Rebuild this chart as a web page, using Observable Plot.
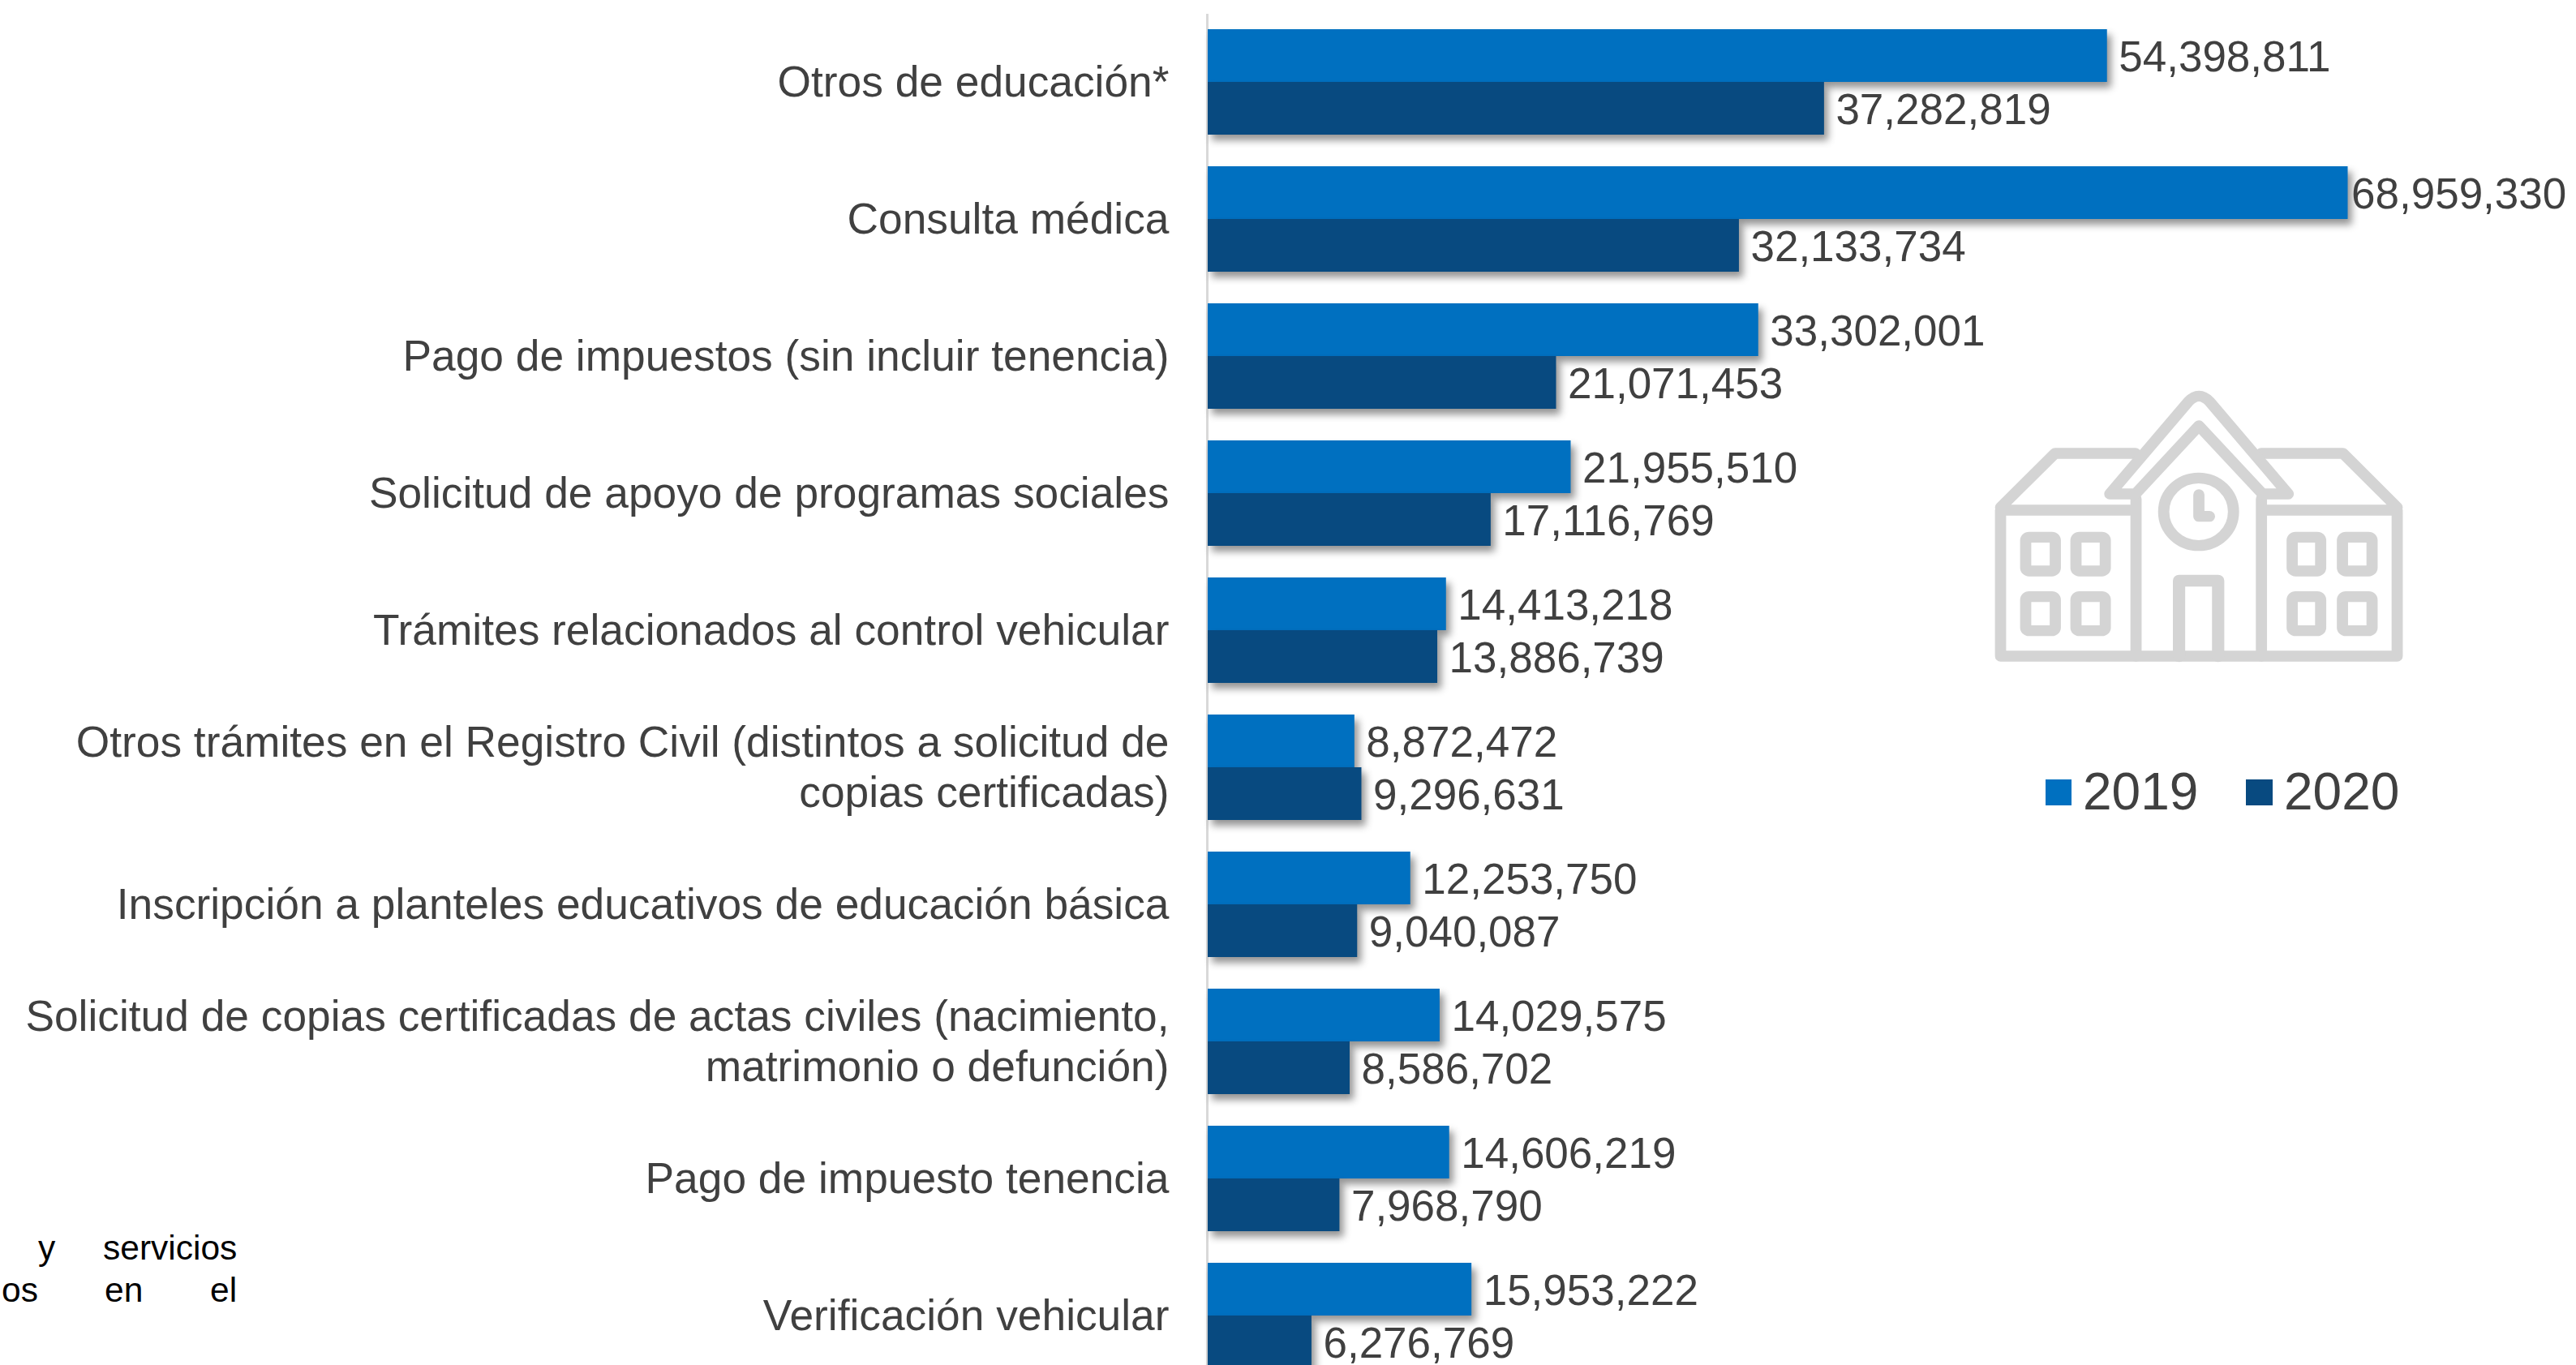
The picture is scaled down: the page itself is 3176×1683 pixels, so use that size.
<!DOCTYPE html>
<html lang="es">
<head>
<meta charset="utf-8">
<script src="https://cdn.jsdelivr.net/npm/d3@7"></script>
<script src="https://cdn.jsdelivr.net/npm/@observablehq/plot@0.6"></script>
<style>
html,body{margin:0;padding:0;background:#fff;overflow:hidden;}
#wrap{position:relative;width:3176px;height:1683px;overflow:hidden;font-family:"Liberation Sans",Arial,sans-serif;background:#fff;}
.abs{position:absolute;white-space:pre;line-height:1;}
.leg{color:#404040;font-size:64px;}
.sw{position:absolute;height:32px;}
.frag{color:#000;font-size:42.5px;}
</style>
</head>
<body>
<div id="wrap"></div>
<script>
const categories = [
  "Otros de educación*",
  "Consulta médica",
  "Pago de impuestos (sin incluir tenencia)",
  "Solicitud de apoyo de programas sociales",
  "Trámites relacionados al control vehicular",
  "Otros trámites en el Registro Civil (distintos a solicitud de\ncopias certificadas)",
  "Inscripción a planteles educativos de educación básica",
  "Solicitud de copias certificadas de actas civiles (nacimiento,\nmatrimonio o defunción)",
  "Pago de impuesto tenencia",
  "Verificación vehicular"
];
const values2019 = [54398811,68959330,33302001,21955510,14413218,8872472,12253750,14029575,14606219,15953222];
const values2020 = [37282819,32133734,21071453,17116769,13886739,9296631,9040087,8586702,7968790,6276769];
const years = ["2019","2020"];
const colors = ["#0070C0","#084A80"];
const textColor = "#404040";

const rows2019 = categories.map((c,i)=>({category:c,value:values2019[i]}));
const rows2020 = categories.map((c,i)=>({category:c,value:values2020[i]}));
const half = 65;
const labelFont = 53;
const shadow = "drop-shadow(5px 7px 5px rgba(0,0,0,0.42))";
const maxValue = d3.max(values2019);

const chart = Plot.plot({
  width:3176, height:1683,
  marginLeft:1489, marginRight:0, marginTop:17, marginBottom:0,
  style:{fontFamily:'"Liberation Sans",Arial,sans-serif',background:"transparent"},
  x:{domain:[0,maxValue],range:[1489,2894.5],axis:null},
  y:{type:"band",domain:categories,range:[17,1707],paddingInner:39/169,paddingOuter:39/338,align:0.5,label:null},
  marks:[
    Plot.ruleX([0],{stroke:"#d9d9d9",strokeWidth:3,dx:-1}),
    Plot.barX(rows2019,{x:"value",y:"category",fill:colors[0],insetBottom:half,imageFilter:shadow}),
    Plot.barX(rows2020,{x:"value",y:"category",fill:colors[1],insetTop:half,imageFilter:shadow}),
    Plot.axisY({anchor:"left",tickSize:0,tickPadding:48,dy:-2,fontSize:53.3,lineHeight:1.15,color:textColor,label:null,tickFormat:d=>d,textOverflow:null,lineWidth:Infinity}),
    Plot.text(rows2019.filter(d=>d.value<maxValue),{x:"value",y:"category",text:d=>d3.format(",")(d.value),dx:14,dy:-half/2+2,textAnchor:"start",fontSize:labelFont,fill:textColor}),
    Plot.text(rows2019.filter(d=>d.value===maxValue),{x:"value",y:"category",text:d=>d3.format(",")(d.value),dx:4,dy:-half/2+2,textAnchor:"start",fontSize:labelFont,fill:textColor}),
    Plot.text(rows2020,{x:"value",y:"category",text:d=>d3.format(",")(d.value),dx:14,dy:half/2+2,textAnchor:"start",fontSize:labelFont,fill:textColor})
  ]
});
const wrap = document.getElementById("wrap");
wrap.appendChild(chart);

// School icon
const icon = `<svg class="abs" style="left:2440px;top:460.4px" width="540" height="380" viewBox="0 0 1568 1140" preserveAspectRatio="none" fill="none" stroke="#d4d4d4" stroke-width="40" stroke-linejoin="round" stroke-linecap="round">
<path d="M77 1047H1497V507H1030M540 507H77V1047M77 497L272 297H560M1497 497L1303 297H1010"/>
<path d="M562 465V1047M1011 465V1047"/>
<path d="M468 447L750 105Q787 65 825 105L1107 447H1015L787 195L560 447Z"/>
<circle cx="786" cy="513" r="125"/>
<path d="M787 450V530H825"/>
<path d="M716 1047V768H856V1047" stroke-width="44"/>
${[[167,106],[347,105],[1121,102],[1301,106]].flatMap(([x,w])=>[[607,125],[827,126]].map(([y,h])=>`<rect x="${x}" y="${y}" width="${w}" height="${h}" rx="12"/>`)).join("")}
</svg>`;
wrap.insertAdjacentHTML("beforeend",icon);

// Legend
const legendPos = [[2522,32,2568],[2769,33,2816]];
years.forEach((y,i)=>{
  wrap.insertAdjacentHTML("beforeend",
    `<div class="sw" style="left:${legendPos[i][0]}px;width:${legendPos[i][1]}px;top:961px;background:${colors[i]}"></div>`+
    `<div class="abs leg" style="left:${legendPos[i][2]}px;top:943.5px">${y}</div>`);
});

// Fragments of cropped text at lower left
const frags = [["y",47,1518],["servicios",127,1518],["os",2,1570],["en",129,1570],["el",259,1570]];
frags.forEach(([t,x,y])=>wrap.insertAdjacentHTML("beforeend",`<div class="abs frag" style="left:${x}px;top:${y}px">${t}</div>`));
</script>
</body>
</html>
